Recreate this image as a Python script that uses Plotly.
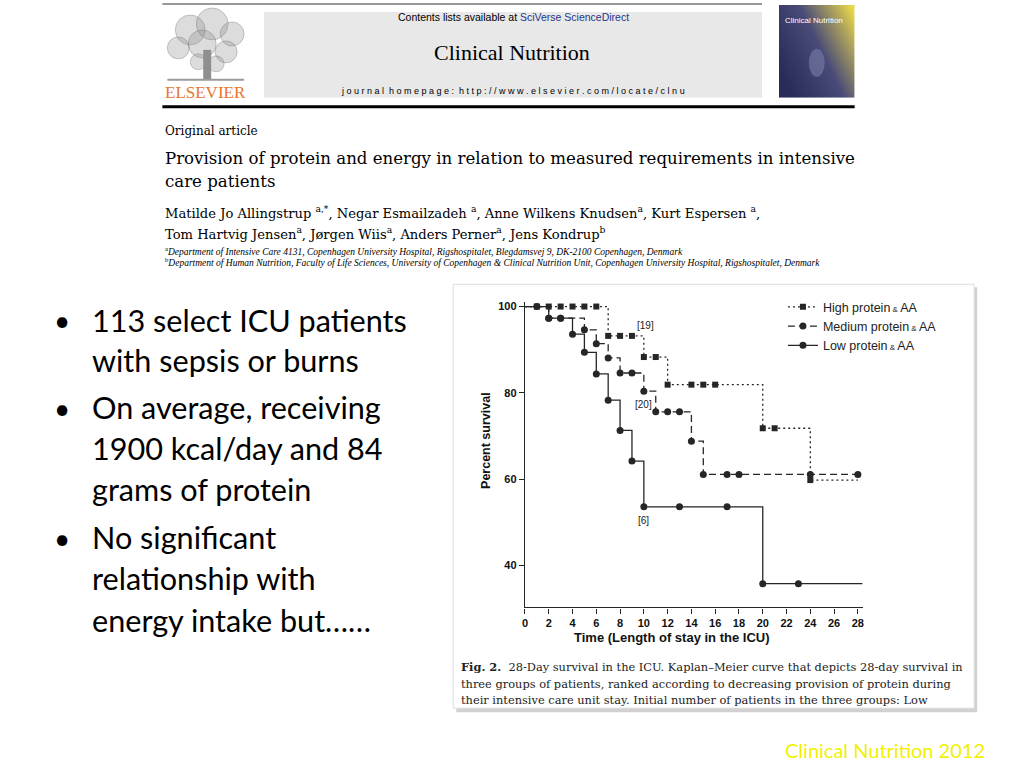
import plotly.graph_objects as go

# Kaplan-Meier steps (day, percent survival)
high_t = [0, 7, 10, 12, 20, 24, 28]
high_s = [100, 93.2, 88.3, 81.9, 71.8, 59.8, 59.8]
high_marks = [1, 2, 3, 4, 5, 6, 7, 8, 9, 10, 11, 12, 14, 15, 16, 20, 21, 24]

medium_t = [0, 2, 5, 6, 7, 8, 10, 11, 14, 15, 28]
medium_s = [100, 97.3, 94.6, 91.4, 88.1, 84.6, 80.4, 75.6, 68.8, 61.1, 61.1]
medium_marks = [2, 3, 5, 6, 7, 8, 9, 10, 11, 12, 13, 14, 15, 17, 18, 24, 28]

low_t = [0, 2, 4, 5, 6, 7, 8, 9, 10, 20, 28.4]
low_s = [100, 97.3, 93.6, 89.4, 84.4, 78.3, 71.3, 64.2, 53.6, 35.8, 35.8]
low_marks = [1, 2, 3, 4, 5, 6, 7, 8, 9, 10, 13, 17, 20, 23]

group_names = ["High protein", "Medium protein", "Low protein"]
x_ticks = list(range(0, 29, 2))
y_ticks = [40, 60, 80, 100]

bullets = [
    ["113 select ICU patients", "with sepsis or burns"],
    ["On average, receiving", "1900 kcal/day and 84", "grams of protein"],
    ["No significant", "relationship with", "energy intake but……"],
]

W, H = 1024, 768
INK = "#262626"


def px(x):
    return x / W


def py(y):
    return 1 - y / H


def level(ts, ss, t):
    v = ss[0]
    for a, b in zip(ts, ss):
        if a <= t:
            v = b
    return v


fig = go.Figure()

styles = [
    dict(dash="2px,3px", symbol="square", size=6),
    dict(dash="7px,4px", symbol="circle", size=7),
    dict(dash="solid", symbol="circle", size=7),
]
groups = [(high_t, high_s, high_marks), (medium_t, medium_s, medium_marks), (low_t, low_s, low_marks)]

for name, (ts, ss, marks), st in zip(group_names, groups, styles):
    fig.add_trace(go.Scatter(
        x=ts, y=ss, mode="lines", line=dict(color=INK, width=1.3, dash=st["dash"], shape="hv"),
        showlegend=False, cliponaxis=False, hoverinfo="skip"))
    fig.add_trace(go.Scatter(
        x=marks, y=[level(ts, ss, m) for m in marks], mode="markers",
        marker=dict(color=INK, size=st["size"], symbol=st["symbol"]),
        showlegend=False, cliponaxis=False))
    fig.add_trace(go.Scatter(
        x=[None], y=[None], mode="lines+markers",
        name=name + "<span style='font-size:8px'> &amp; </span>AA",
        line=dict(color=INK, width=1.3, dash=st["dash"]),
        marker=dict(color=INK, size=st["size"], symbol=st["symbol"])))

axis_font = dict(family="Liberation Sans, Arial", size=11, color="#111", weight="bold")
fig.update_xaxes(
    domain=[px(524), px(863)], range=[0, 28.4], tickvals=x_ticks,
    showline=True, linecolor=INK, linewidth=1.3, ticks="outside", ticklen=5,
    tickcolor=INK, tickfont=axis_font, showgrid=False, zeroline=False)
fig.update_yaxes(
    domain=[py(607), py(301)], range=[30.3, 101], tickvals=y_ticks,
    showline=True, linecolor=INK, linewidth=1.3, ticks="outside", ticklen=5,
    tickcolor=INK, tickfont=axis_font, showgrid=False, zeroline=False)

shapes = []
# figure card with shadow
shapes.append(dict(type="rect", xref="paper", yref="paper", x0=px(455), x1=px(978), y0=py(712), y1=py(286),
                   fillcolor="rgba(0,0,0,0.18)", line=dict(width=0), layer="below"))
shapes.append(dict(type="rect", xref="paper", yref="paper", x0=px(452), x1=px(975), y0=py(708), y1=py(283),
                   fillcolor="white", line=dict(color="#dddddd", width=1), layer="below"))
# journal header
shapes.append(dict(type="line", xref="paper", yref="paper", x0=px(160), x1=px(762), y0=py(2), y1=py(2),
                   line=dict(color="#999999", width=2)))
shapes.append(dict(type="rect", xref="paper", yref="paper", x0=px(262), x1=px(762), y0=py(96), y1=py(10),
                   fillcolor="#e8e8e8", line=dict(width=0), layer="below"))
shapes.append(dict(type="line", xref="paper", yref="paper", x0=px(160), x1=px(855), y0=py(105), y1=py(105),
                   line=dict(color="black", width=3)))
# simplified Elsevier tree
for cx, cy, r in [(188, 28, 15), (210, 22, 16), (230, 32, 12), (176, 46, 11), (200, 42, 14), (224, 50, 11),
                  (196, 60, 8), (214, 62, 8)]:
    shapes.append(dict(type="circle", xref="paper", yref="paper", x0=px(cx - r), x1=px(cx + r),
                       y0=py(cy + r), y1=py(cy - r), fillcolor="rgba(140,140,140,0.3)",
                       line=dict(color="rgba(110,110,110,0.35)", width=1)))
shapes.append(dict(type="rect", xref="paper", yref="paper", x0=px(201), x1=px(209), y0=py(78), y1=py(48),
                   fillcolor="#8f8f8f", line=dict(width=0)))
shapes.append(dict(type="line", xref="paper", yref="paper", x0=px(165), x1=px(242), y0=py(78), y1=py(78),
                   line=dict(color="#9a9a9a", width=2)))

cover_svg = (
    "data:image/svg+xml;utf8,<svg xmlns='http://www.w3.org/2000/svg' width='76' height='93'>"
    "<defs><linearGradient id='g' x1='0' y1='0.7' x2='1' y2='0.1'>"
    "<stop offset='0' stop-color='%23282c58'/><stop offset='0.5' stop-color='%23484a78'/>"
    "<stop offset='0.85' stop-color='%23b6aa5a'/><stop offset='1' stop-color='%23e6d64a'/></linearGradient></defs>"
    "<rect width='76' height='93' fill='url(%23g)'/>"
    "<ellipse cx='38' cy='58' rx='8' ry='14' fill='%237a7fa8' opacity='0.6'/></svg>"
)

ann = []


def text(x, y, s, size, color="black", family="Liberation Sans, Arial", xanchor="left", **kw):
    ann.append(dict(x=px(x), y=py(y), xref="paper", yref="paper", text=s, showarrow=False,
                    xanchor=xanchor, yanchor="middle", font=dict(size=size, color=color, family=family), **kw))


serif = "Liberation Serif, Times New Roman"
wide_serif = "DejaVu Serif"
text(512, 15, "Contents lists available at <span style='color:#27378a'>SciVerse ScienceDirect</span>", 10.5,
     xanchor="center")
text(511, 51, "Clinical Nutrition", 22, family=serif, xanchor="center")
text(512, 89, "j o u r n a l  h o m e p a g e :  h t t p : / / w w w . e l s e v i e r . c o m / l o c a t e / c l n u",
     9, xanchor="center")
text(203, 91, "ELSEVIER", 17, color="#e8762a", family=serif, xanchor="center")
text(783, 19, "Clinical Nutrition", 8, color="white")
text(161, 129, "Original article", 12, family=wide_serif)
text(161, 157, "Provision of protein and energy in relation to measured requirements in intensive", 16.6,
     family=wide_serif)
text(161, 180, "care patients", 16.6, family=wide_serif)
text(161, 211, "Matilde Jo Allingstrup <sup>a,*</sup>, Negar Esmailzadeh <sup>a</sup>, Anne Wilkens Knudsen"
     "<sup>a</sup>, Kurt Espersen <sup>a</sup>,", 13.1, family=wide_serif)
text(161, 232, "Tom Hartvig Jensen<sup>a</sup>, Jørgen Wiis<sup>a</sup>, Anders Perner<sup>a</sup>, "
     "Jens Kondrup<sup>b</sup>", 13.1, family=wide_serif)
text(161, 250, "<sup>a</sup><i>Department of Intensive Care 4131, Copenhagen University Hospital, Rigshospitalet, "
     "Blegdamsvej 9, DK-2100 Copenhagen, Denmark</i>", 9.5, family=serif)
text(161, 261, "<sup>b</sup><i>Department of Human Nutrition, Faculty of Life Sciences, University of Copenhagen "
     "&amp; Clinical Nutrition Unit, Copenhagen University Hospital, Rigshospitalet, Denmark</i>", 9.5, family=serif)

# bullets
line_y = [[319, 359], [407, 448, 489], [537, 578, 620]]
for lines, ys in zip(bullets, line_y):
    text(59, ys[0], "•", 28, family="Lato", xanchor="center")
    for s, y in zip(lines, ys):
        text(87, y, s, 30.6, family="Lato")

# chart labels
text(485, 440, "Percent survival", 12.5, color="#111", xanchor="center", textangle=-90)
ann[-1]["font"]["weight"] = "bold"
text(672, 637, "Time (Length of stay in the ICU)", 13, color="#111", xanchor="center")
ann[-1]["font"]["weight"] = "bold"
text(645, 324, "[19]", 10, color="#222", xanchor="center")
text(643, 404, "[20]", 10, color="#222", xanchor="center")
text(643, 520, "[6]", 10, color="#222", xanchor="center")

# caption
text(458, 667, "<b>Fig. 2.</b>  28-Day survival in the ICU. Kaplan–Meier curve that depicts 28-day survival in",
     11.4, color="#222", family=wide_serif)
text(458, 684, "three groups of patients, ranked according to decreasing provision of protein during",
     11.4, color="#222", family=wide_serif)
text(458, 700, "their intensive care unit stay. Initial number of patients in the three groups: Low",
     11.4, color="#222", family=wide_serif)

text(988, 750, "Clinical Nutrition 2012", 20, color="#f2f000", family="Lato", xanchor="right")

fig.update_layout(
    width=W, height=H, margin=dict(l=0, r=0, t=0, b=0),
    paper_bgcolor="white", plot_bgcolor="rgba(0,0,0,0)",
    shapes=shapes, annotations=ann,
    images=[dict(source=cover_svg, xref="paper", yref="paper", x=px(779), y=py(3),
                 sizex=px(76), sizey=93 / H, xanchor="left", yanchor="top", sizing="stretch", layer="below")],
    legend=dict(x=px(783), y=py(291), xanchor="left", yanchor="top", bgcolor="rgba(0,0,0,0)",
                font=dict(family="Liberation Sans, Arial", size=12.5, color="#222"),
                tracegroupgap=0, itemwidth=30),
    showlegend=True,
)

fig.write_html("out.html", config={"displayModeBar": False},
               post_script="document.body.style.margin='0';")
